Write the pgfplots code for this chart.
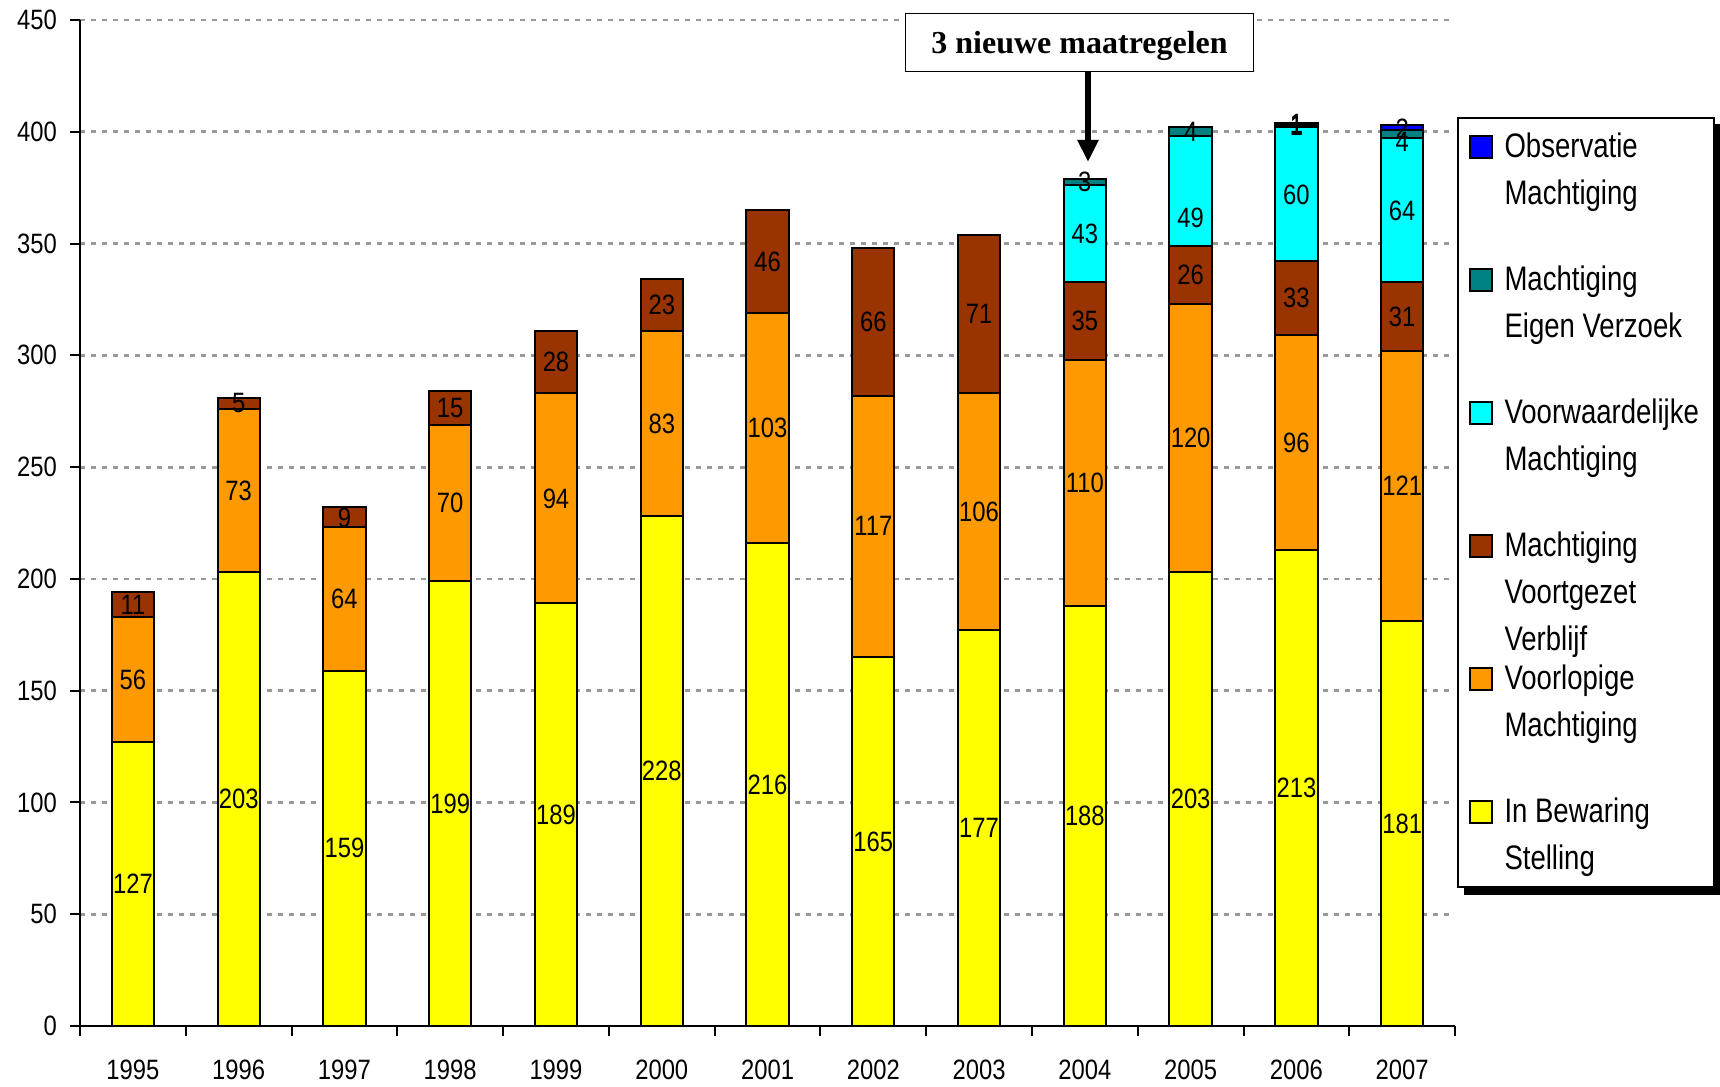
\documentclass[border=0pt]{standalone}
\usepackage{pgfplots}
\pgfplotsset{compat=1.18}
\usepackage{pgfplotstable}
\usepackage{fontspec}
\setmainfont{Liberation Sans}[FakeStretch=0.85]
\newfontfamily\legfont{Liberation Sans}[FakeStretch=0.81]
\newfontfamily\annfont{Liberation Serif}
\usetikzlibrary{arrows.meta,backgrounds}
\definecolor{cIBS}{HTML}{FFFF00}
\definecolor{cVM}{HTML}{FF9900}
\definecolor{cMVV}{HTML}{993300}
\definecolor{cVwM}{HTML}{00FFFF}
\definecolor{cMEV}{HTML}{008080}
\definecolor{cOM}{HTML}{0000FF}
\definecolor{gridgray}{HTML}{999999}

\pgfplotstableread{
x IBS VM MVV VwM MEV OM
0 127 56 11 0 0 0
1 203 73 5 0 0 0
2 159 64 9 0 0 0
3 199 70 15 0 0 0
4 189 94 28 0 0 0
5 228 83 23 0 0 0
6 216 103 46 0 0 0
7 165 117 66 0 0 0
8 177 106 71 0 0 0
9 188 110 35 43 3 0
10 203 120 26 49 4 0
11 213 96 33 60 1 1
12 181 121 31 64 4 2
}\bars

\pgfplotstableread{
x y lab
0 63.5 127
0 155 56
0 188.5 11
1 101.5 203
1 239.5 73
1 278.5 5
2 79.5 159
2 191 64
2 227.5 9
3 99.5 199
3 234 70
3 276.5 15
4 94.5 189
4 236 94
4 297 28
5 114 228
5 269.5 83
5 322.5 23
6 108 216
6 267.5 103
6 342 46
7 82.5 165
7 223.5 117
7 315 66
8 88.5 177
8 230 106
8 318.5 71
9 94 188
9 243 110
9 315.5 35
9 354.5 43
9 377.5 3
10 101.5 203
10 263 120
10 336 26
10 361.5 49
10 400 4
11 106.5 213
11 261 96
11 325.5 33
11 372 60
11 402.5 1
11 403.5 1
12 90.5 181
12 241.5 121
12 317 31
12 364.5 64
12 395.5 4
12 401.5 2
}\labs

\newcommand{\twol}[1]{\begin{tabular}[t]{@{}l@{}}#1\end{tabular}}

\pgfplotsset{
  myaxis/.style={width=687.5pt, height=503pt, scale only axis,
    xmin=-0.5, xmax=12.5, ymin=0, ymax=450},
  sqleg/.style={legend image code/.code={\draw[##1, line width=0.8pt] (0pt,6pt) rectangle (11pt,17pt);}},
}

\begin{document}
\begin{tikzpicture}
\begin{axis}[myaxis,
  ybar stacked, bar width=0.4,
  axis x line*=bottom, axis y line*=left,
  axis line style={line width=1pt},
  ytick={0,50,...,450},
  ymajorgrids,
  grid style={gridgray, line width=1.4pt, dash pattern=on 2.5pt off 3pt},
  xtick={0,...,12},
  xticklabels={1995,1996,1997,1998,1999,2000,2001,2002,2003,2004,2005,2006,2007},
  minor xtick={-0.5,0.5,...,12.5},
  major x tick style={draw=none},
  tick style={black, line width=1pt},
  tick align=outside,
  major tick length=5pt, minor tick length=5pt,
  ticklabel style={font=\fontsize{14}{14}\selectfont},
  /pgf/number format/assume math mode=true,
  yticklabel style={xshift=-3pt},
  xticklabel style={yshift=-8.5pt},
  every axis plot/.append style={draw=black, line width=1pt},
  legend cell align=left,
  reverse legend,
  legend style={name=leg, at={(1.0015,0.9036)}, anchor=north west,
    draw=black, line width=0.8pt, fill=white,
    font=\fontsize{17}{23.5}\selectfont\legfont,
    inner xsep=5.5pt, inner ysep=5pt,
    row sep=24.5pt, column sep=4pt,
    nodes={text height=13pt, text depth=25pt, inner sep=2pt}},
  clip=false,
]
\addplot[fill=cIBS, sqleg] table[x=x,y=IBS]{\bars};
\addlegendentry{\twol{In Bewaring\\Stelling}}
\addplot[fill=cVM, sqleg] table[x=x,y=VM]{\bars};
\addlegendentry{\twol{Voorlopige\\Machtiging}}
\addplot[fill=cMVV, sqleg] table[x=x,y=MVV]{\bars};
\addlegendentry{\twol{Machtiging\\Voortgezet\\Verblijf}}
\addplot[fill=cVwM, sqleg] table[x=x,y=VwM]{\bars};
\addlegendentry{\twol{Voorwaardelijke\\Machtiging}}
\addplot[fill=cMEV, sqleg] table[x=x,y=MEV]{\bars};
\addlegendentry{\twol{Machtiging\\Eigen Verzoek}}
\addplot[fill=cOM, sqleg] table[x=x,y=OM]{\bars};
\addlegendentry{\twol{Observatie\\Machtiging}}
\coordinate (bbSW) at (axis cs:-1.2564,-26.84);
\coordinate (bbNE) at (axis cs:15.005,458.95);
\end{axis}
\begin{axis}[myaxis, hide axis, clip=false]
\addplot[draw=none, mark=none, nodes near coords, point meta=explicit symbolic,
  every node near coord/.append style={anchor=center, inner sep=0pt,
    font=\fontsize{14}{14}\selectfont, text=black}]
  table[x=x,y=y,meta=lab]{\labs};
\node[draw=black, line width=0.6pt, fill=white, minimum width=174pt,
  minimum height=29pt, inner sep=0pt, text height=15pt, text depth=3.5pt,
  font=\fontsize{16}{16}\selectfont\annfont\bfseries]
  at (axis cs:8.95,440) {3 nieuwe maatregelen};
\draw[line width=2.7pt, -{Triangle[width=10pt,length=11pt]}]
  (axis cs:9.03,427) -- (axis cs:9.03,386.5);
\end{axis}
\begin{scope}[on background layer]
\fill[black] ([shift={(3.5pt,-3.5pt)}]leg.south west) rectangle ([shift={(3.5pt,-3.5pt)}]leg.north east);
\end{scope}
\pgfresetboundingbox
\path[use as bounding box] (bbSW) rectangle (bbNE);
\end{tikzpicture}
\end{document}
